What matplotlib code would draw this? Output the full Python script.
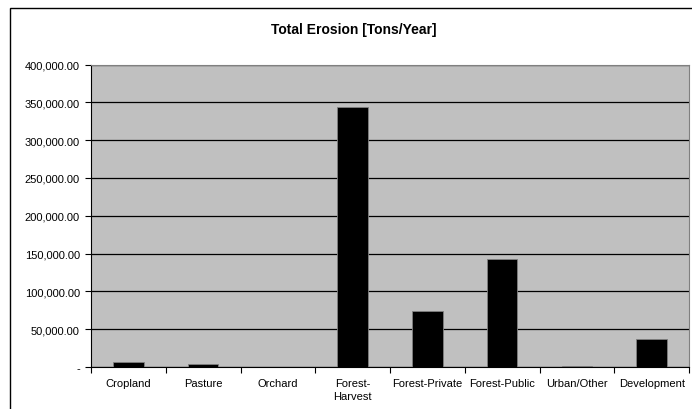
import matplotlib.pyplot as plt
from matplotlib.patches import Rectangle
from matplotlib.ticker import FuncFormatter

plt.rcParams['font.family'] = ['Liberation Sans', 'DejaVu Sans']

# Data
categories = ['Cropland', 'Pasture', 'Orchard', 'Forest-\nHarvest', 'Forest-Private',
              'Forest-Public', 'Urban/Other', 'Development']
erosion = [6200, 4000, 0, 343500, 73700, 142900, 1200, 37000]

fig = plt.figure(figsize=(6.92, 4.10), dpi=100)

# Outer chart border (right and bottom edges fall outside the image)
fig.patches.append(Rectangle((10 / 692, -0.05), 1.0, 1 - 9 / 410 + 0.05,
                             transform=fig.transFigure, fill=False,
                             edgecolor='black', linewidth=1.0))

ax = fig.add_axes([91 / 692, (410 - 368) / 410, (689 - 91) / 692, (368 - 65.5) / 410])
ax.set_facecolor('#c0c0c0')

x = range(len(categories))
ax.bar(x, erosion, width=0.41, color='black', edgecolor='#808080', linewidth=0.6, zorder=3)

ax.set_xlim(-0.5, len(categories) - 0.5)
ax.set_ylim(0, 400000)
ax.set_yticks(range(0, 400001, 50000))
ax.yaxis.set_major_formatter(FuncFormatter(lambda v, p: '-' if v == 0 else f'{v:,.2f}'))
ax.grid(axis='y', color='black', linewidth=0.9, zorder=1)

# x ticks sit between categories, labels centred under bars
ax.set_xticks([i - 0.5 for i in range(len(categories) + 1)])
ax.set_xticklabels([])
ax.set_xticks(list(x), minor=True)
ax.set_xticklabels(categories, minor=True, fontsize=8, linespacing=1.3)
ax.tick_params(axis='x', which='minor', length=0, pad=8)
ax.tick_params(axis='x', which='major', length=4, width=0.8, direction='out')
ax.tick_params(axis='y', length=4, width=0.8, labelsize=8, pad=4)

for side in ['top', 'right']:
    ax.spines[side].set_color('#808080')
ax.spines['left'].set_color('black')
ax.spines['bottom'].set_color('black')

fig.text(0.5 + 8 / 692, 1 - 30 / 410, 'Total Erosion [Tons/Year]', ha='center', va='center',
         fontsize=10, fontweight='bold')

fig.savefig('out.png', dpi=100)
